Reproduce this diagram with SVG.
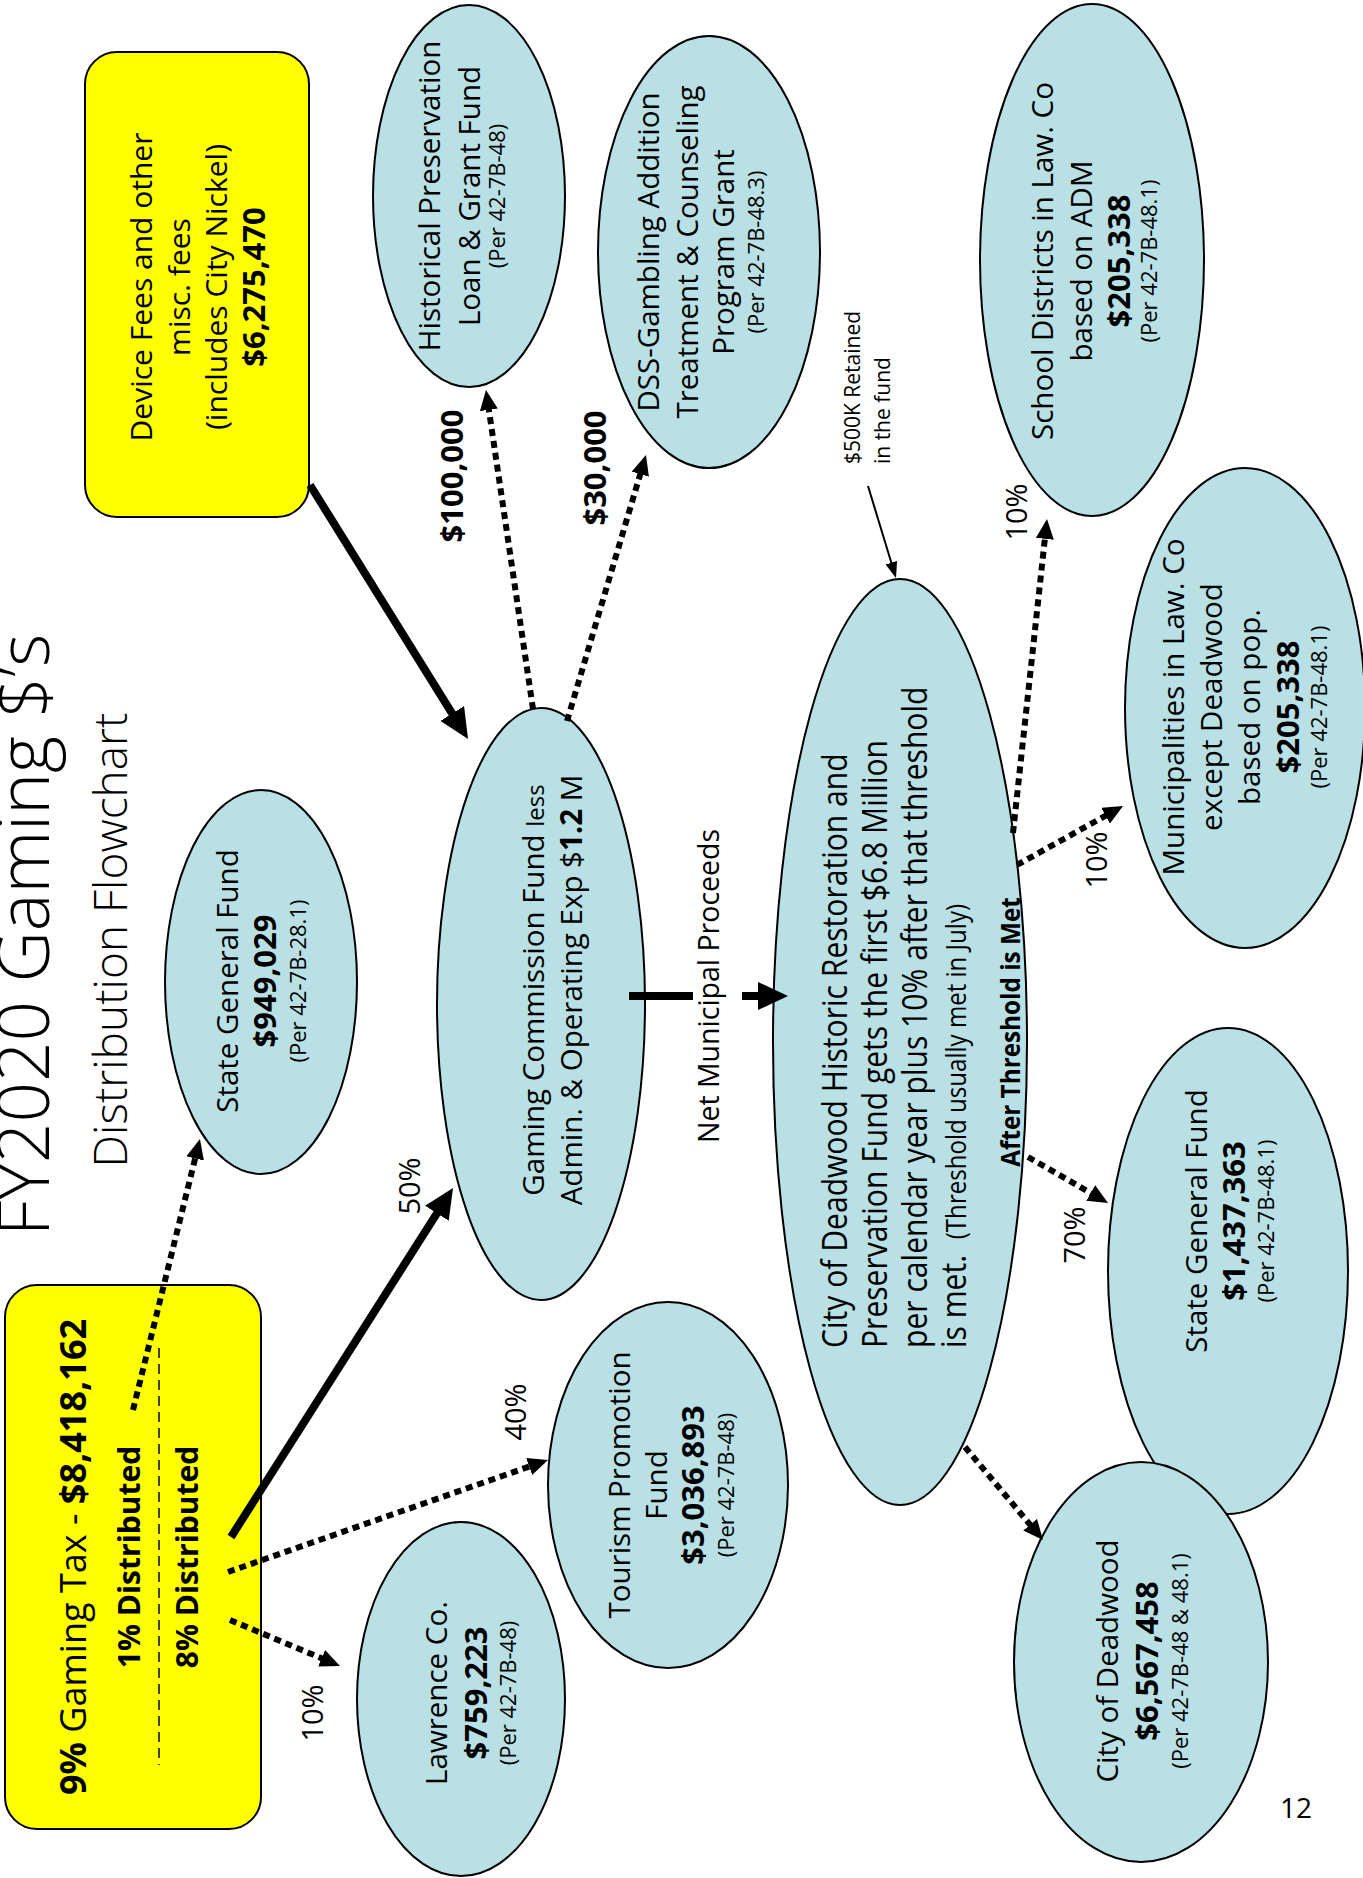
<svg xmlns="http://www.w3.org/2000/svg" width="1363" height="1878" viewBox="0 0 1363 1878">
<style>
text { font-family: "Open Sans", "Noto Sans", "DejaVu Sans", sans-serif; fill: #000; }
.m { text-anchor: middle; }
.s { text-anchor: start; }
.b { font-weight: 700; }
.r29 { font-size: 29.5px; }
.b31 { font-size: 31px; font-weight: 700; }
.p22 { font-size: 22px; }
.ell { fill: #B9E0E4; stroke: #000; stroke-width: 2; }
.box { fill: #FFFF00; stroke: #000; stroke-width: 2; }
.solid { stroke: #000; stroke-width: 8; fill: none; }
.dot { stroke: #000; stroke-width: 6; stroke-dasharray: 7 5; fill: none; }
.thin { stroke: #000; stroke-width: 2; fill: none; }
.pct { font-size: 29px; }
</style>
<defs>
<marker id="aThick" markerUnits="userSpaceOnUse" markerWidth="30" markerHeight="28" refX="8" refY="14" orient="auto"><path d="M0,0 L30,14 L0,28 Z" fill="#000"/></marker>
<marker id="aDot" markerUnits="userSpaceOnUse" markerWidth="20" markerHeight="18" refX="6" refY="9" orient="auto"><path d="M0,0 L20,9 L0,18 Z" fill="#000"/></marker>
<marker id="aThin" markerUnits="userSpaceOnUse" markerWidth="16" markerHeight="12" refX="4" refY="6" orient="auto"><path d="M0,0 L16,6 L0,12 Z" fill="#000"/></marker>
</defs>
<rect width="1363" height="1878" fill="#fff"/>

<g id="title">
<text class="m" transform="translate(0,935) rotate(-90)" y="49" font-size="71" font-weight="350">FY2020 Gaming $’s</text>
<text class="m" transform="translate(0,940) rotate(-90)" y="127" font-size="46" font-weight="350">Distribution Flowchart</text>
</g>

<g id="n-gaming-tax">
<rect class="box" x="5" y="1285" width="256" height="544" rx="32" ry="32"/>
<line x1="159" y1="1348" x2="159" y2="1765" stroke="#000" stroke-width="1.5" stroke-dasharray="10 6"/>
<g transform="translate(0,1557) rotate(-90)">
<text class="m" y="86" font-size="36"><tspan class="b">9%</tspan> Gaming Tax - <tspan class="b">$8,418,162</tspan></text>
<text class="m b" y="140" font-size="30">1% Distributed</text>
<text class="m b" y="198" font-size="30">8% Distributed</text>
</g>
</g>

<g id="n-device-fees">
<rect class="box" x="85" y="52" width="224" height="465" rx="32" ry="32"/>
<g transform="translate(0,287) rotate(-90)">
<text class="m" y="152" font-size="30">Device Fees and other</text>
<text class="m" y="189.5" font-size="30">misc. fees</text>
<text class="m" y="227" font-size="30">(includes City Nickel)</text>
<text class="m b31" y="264.5">$6,275,470</text>
</g>
</g>

<g id="n-state-general-1">
<ellipse class="ell" cx="261" cy="982" rx="96" ry="192"/>
<g transform="translate(0,981) rotate(-90)">
<text class="m r29" y="238">State General Fund</text>
<text class="m b31" y="276">$949,029</text>
<text class="m p22" y="306">(Per 42-7B-28.1)</text>
</g>
</g>

<g id="n-historical">
<ellipse class="ell" cx="469" cy="196" rx="96" ry="191"/>
<g transform="translate(0,196) rotate(-90)">
<text class="m r29" y="440">Historical Preservation</text>
<text class="m r29" y="480">Loan &amp; Grant Fund</text>
<text class="m p22" y="505">(Per 42-7B-48)</text>
</g>
</g>

<g id="n-dss">
<ellipse class="ell" cx="709" cy="252" rx="111" ry="216"/>
<g transform="translate(0,252) rotate(-90)">
<text class="m r29" y="659">DSS-Gambling Addition</text>
<text class="m r29" y="698">Treatment &amp; Counseling</text>
<text class="m r29" y="734">Program Grant</text>
<text class="m p22" y="764">(Per 42-7B-48.3)</text>
</g>
</g>

<g id="n-school">
<ellipse class="ell" cx="1092" cy="260" rx="112" ry="256"/>
<g transform="translate(0,261) rotate(-90)">
<text class="m r29" y="1053">School Districts in Law. Co</text>
<text class="m r29" y="1092">based on ADM</text>
<text class="m b31" y="1130">$205,338</text>
<text class="m p22" y="1157">(Per 42-7B-48.1)</text>
</g>
</g>

<g id="n-gaming-commission">
<ellipse class="ell" cx="541" cy="1004" rx="104" ry="296"/>
<g transform="translate(0,990) rotate(-90)">
<text class="m r29" y="544">Gaming Commission Fund <tspan font-size="24">less</tspan></text>
<text class="m r29" y="582">Admin. &amp; Operating Exp $<tspan class="b">1.2</tspan> M</text>
</g>
</g>

<g id="n-tourism">
<ellipse class="ell" cx="668" cy="1485" rx="120" ry="183"/>
<g transform="translate(0,1485) rotate(-90)">
<text class="m r29" y="630">Tourism Promotion</text>
<text class="m r29" y="667">Fund</text>
<text class="m b31" y="704">$3,036,893</text>
<text class="m p22" y="734">(Per 42-7B-48)</text>
</g>
</g>

<g id="n-lawrence">
<ellipse class="ell" cx="461" cy="1699" rx="104" ry="177"/>
<g transform="translate(0,1693) rotate(-90)">
<text class="m r29" y="447">Lawrence Co.</text>
<text class="m b31" y="487">$759,223</text>
<text class="m p22" y="516">(Per 42-7B-48)</text>
</g>
</g>

<g id="n-deadwood-hr">
<ellipse class="ell" cx="900" cy="1042" rx="127" ry="463"/>
<g transform="translate(0,1348) rotate(-90) scale(0.86,1)">
<text class="s" y="847" font-size="35">City of Deadwood Historic Restoration and</text>
<text class="s" y="887" font-size="35">Preservation Fund gets the first $6.8 Million</text>
<text class="s" y="927" font-size="35">per calendar year plus 10% after that threshold</text>
<text class="s" y="966" font-size="35">is met.&#160; <tspan font-size="28">(Threshold usually met in July)</tspan></text>
</g>
<text class="m b" transform="translate(0,1032) rotate(-90) scale(0.9,1)" y="1020" font-size="27">After Threshold is Met</text>
</g>

<g id="n-municipalities">
<ellipse class="ell" cx="1245" cy="708" rx="120" ry="240"/>
<g transform="translate(0,707) rotate(-90)">
<text class="m r29" y="1184">Municipalities in Law. Co</text>
<text class="m r29" y="1222">except Deadwood</text>
<text class="m r29" y="1260">based on pop.</text>
<text class="m b31" y="1299">$205,338</text>
<text class="m p22" y="1327">(Per 42-7B-48.1)</text>
</g>
</g>

<g id="n-state-general-2">
<ellipse class="ell" cx="1228" cy="1271" rx="120" ry="243"/>
<g transform="translate(0,1221) rotate(-90)">
<text class="m r29" y="1207">State General Fund</text>
<text class="m b31" y="1245">$1,437,363</text>
<text class="m p22" y="1274">(Per 42-7B-48.1)</text>
</g>
</g>

<g id="n-city-deadwood">
<ellipse class="ell" cx="1141" cy="1662" rx="127" ry="200"/>
<g transform="translate(0,1661) rotate(-90)">
<text class="m r29" y="1118">City of Deadwood</text>
<text class="m b31" y="1158">$6,567,458</text>
<text class="m p22" y="1188">(Per 42-7B-48 &amp; 48.1)</text>
</g>
</g>

<g id="connectors">
<line class="dot" x1="133" y1="1410" x2="196.6" y2="1152.6" marker-end="url(#aDot)"/>
<line class="solid" x1="231" y1="1537" x2="441.2" y2="1206.6" marker-end="url(#aThick)"/>
<line class="dot" x1="228" y1="1572" x2="534.8" y2="1464.6" marker-end="url(#aDot)"/>
<line class="dot" x1="230" y1="1620" x2="327.1" y2="1660.6" marker-end="url(#aDot)"/>
<line class="solid" x1="310" y1="485" x2="456.4" y2="720.3" marker-end="url(#aThick)"/>
<line class="dot" x1="533" y1="709" x2="488" y2="403.9" marker-end="url(#aDot)"/>
<line class="dot" x1="567" y1="721" x2="642" y2="468.4" marker-end="url(#aDot)"/>
<line class="solid" x1="629" y1="996" x2="693" y2="996"/>
<line class="solid" x1="742" y1="996" x2="766" y2="996" marker-end="url(#aThick)"/>
<line class="thin" x1="868" y1="486" x2="892.5" y2="566.5" marker-end="url(#aThin)"/>
<line class="dot" x1="1013" y1="833" x2="1045.5" y2="532.9" marker-end="url(#aDot)"/>
<line class="dot" x1="1017" y1="865" x2="1110.8" y2="812.8" marker-end="url(#aDot)"/>
<line class="dot" x1="1028" y1="1157" x2="1095.9" y2="1196" marker-end="url(#aDot)"/>
<line class="dot" x1="965" y1="1447" x2="1034" y2="1529.3" marker-end="url(#aDot)"/>
</g>

<g id="labels">
<text class="m" transform="translate(0,986) rotate(-90)" y="719" font-size="28.5">Net Municipal Proceeds</text>
<text class="m pct" transform="translate(0,1186) rotate(-90)" y="420">50%</text>
<text class="m pct" transform="translate(0,1412) rotate(-90)" y="526">40%</text>
<text class="m pct" transform="translate(0,1713) rotate(-90)" y="323">10%</text>
<text class="m pct" transform="translate(0,512) rotate(-90)" y="1027">10%</text>
<text class="m pct" transform="translate(0,860) rotate(-90)" y="1107">10%</text>
<text class="m pct" transform="translate(0,1235) rotate(-90)" y="1085">70%</text>
<text class="m b31" transform="translate(0,476) rotate(-90)" y="463">$100,000</text>
<text class="m b31" transform="translate(0,468) rotate(-90)" y="606">$30,000</text>
<g transform="translate(0,464) rotate(-90)">
<text class="s" y="860" font-size="21">$500K Retained</text>
<text class="s" y="890" font-size="21">in the fund</text>
</g>
<text x="1280" y="1818" font-size="28">12</text>
</g>
</svg>
